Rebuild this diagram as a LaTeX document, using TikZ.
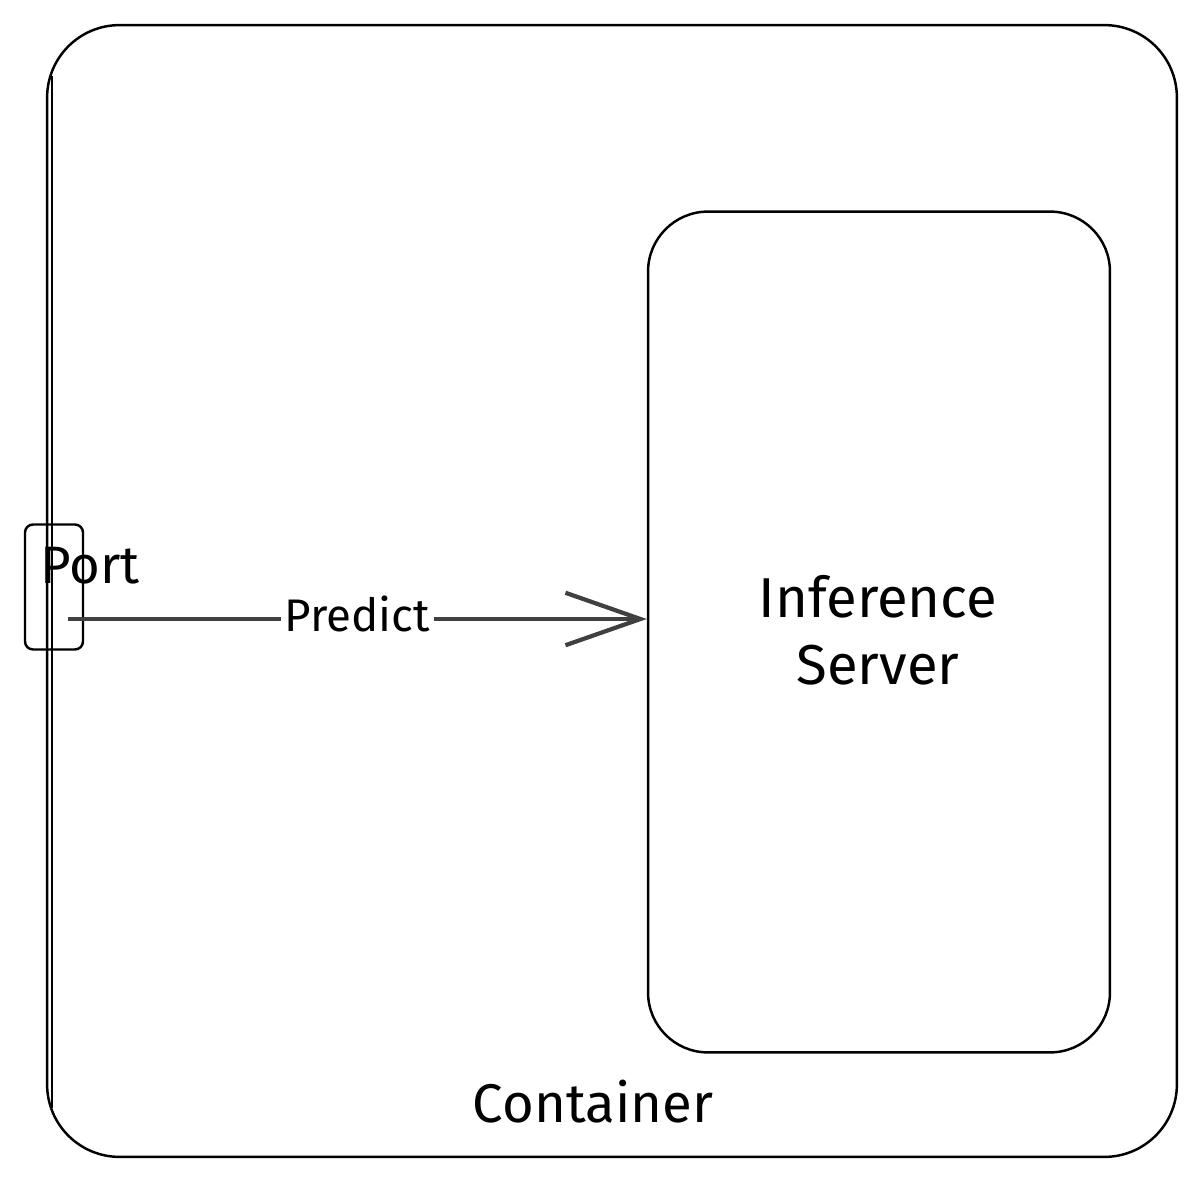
\documentclass[tikz,border=0pt]{standalone}
\usepackage{fontspec}
\setmainfont{Fira Sans}
\usetikzlibrary{arrows.meta,calc}
\tikzset{
	box/.style={draw,line width=1.4pt,rounded corners=#1,inner sep=0pt},
	flow/.style={line width=2.2pt,draw=black!75,-{Straight Barb[length=1.5cm,width=1.05cm,line width=2.4pt]}},
}
\begin{document}
\begin{tikzpicture}[line join=round,x=0.02cm,y=-0.02cm]
	%==Thông số
	\def\big{\fontsize{32}{38}\selectfont}
	\def\mid{\fontsize{26}{30}\selectfont}
	\def\tag{\fontsize{30}{34}\selectfont}
	%==============
	\useasboundingbox (0,0) rectangle (1200,1182);
	\node[box=1.45cm,minimum width=22.6cm,minimum height=22.64cm] (container) at (612,591) {};
	\draw[line width=0.9pt] (52,76)--(52,1108);
	\node[box=1.2cm,minimum width=9.24cm,minimum height=16.82cm] (server) at (879,632) {};
	\node[align=center,font=\big] (serverlabel) at (878,630) {Inference\\Server};
	\node[box=0.16cm,minimum width=1.16cm,minimum height=2.5cm] (port) at (54,587) {};
	\node[font=\tag,inner sep=0pt] (portlabel) at (90,566) {Port};
	\coordinate (pstart) at (68,619);
	\draw[flow] (pstart)--(pstart -| server.west) node[midway,fill=white,inner sep=2pt,font=\mid,yshift=0.1cm] (predict) {Predict};
	\node[font=\fontsize{31}{36}\selectfont] (containerlabel) at (593,1102) {Container};
\end{tikzpicture}
\end{document}
